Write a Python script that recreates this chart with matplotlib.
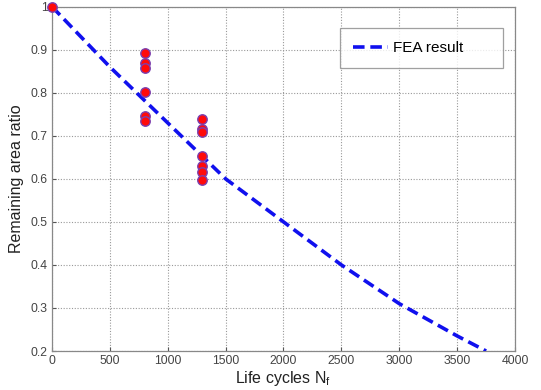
import matplotlib
matplotlib.use("Agg")
import matplotlib.pyplot as plt

plt.rcParams['font.family'] = ['Liberation Sans', 'DejaVu Sans']

# FEA result curve
fea_x = [0, 500, 1000, 1500, 2000, 2500, 3000, 3500, 3750]
fea_y = [1.0, 0.86, 0.73, 0.60, 0.50, 0.40, 0.31, 0.235, 0.20]

# Experimental points
exp_x = [0, 800, 800, 800, 800, 800, 800,
         1300, 1300, 1300, 1300, 1300, 1300, 1300]
exp_y = [1.0, 0.892, 0.868, 0.857, 0.801, 0.747, 0.734,
         0.739, 0.716, 0.708, 0.652, 0.630, 0.616, 0.598]

xticks = [0, 500, 1000, 1500, 2000, 2500, 3000, 3500, 4000]
yticks = [0.2, 0.3, 0.4, 0.5, 0.6, 0.7, 0.8, 0.9, 1.0]
ytick_labels = ['0.2', '0.3', '0.4', '0.5', '0.6', '0.7', '0.8', '0.9', '1']

fig = plt.figure(figsize=(5.41, 3.9), dpi=100)
ax = fig.add_axes([0.096, 0.10, 0.856, 0.883])

ax.plot(fea_x, fea_y, linestyle=(0, (3.2, 1.6)), color='#1010ee', linewidth=2.6,
        label='FEA result', zorder=3)
ax.plot(exp_x, exp_y, linestyle='none', marker='o', markersize=6.8,
        markerfacecolor='#ff0a0a', markeredgecolor='#7a3fb0', markeredgewidth=1.0,
        zorder=4, clip_on=False)

ax.set_xlim(0, 4000)
ax.set_ylim(0.2, 1.0)
ax.set_xticks(xticks)
ax.set_yticks(yticks)
ax.set_yticklabels(ytick_labels)
ax.tick_params(direction='in', length=3, labelsize=8.8, colors='#555555',
               labelcolor='#444444', pad=3)
ax.grid(True, linestyle=(0, (1, 1.5)), color='#999999', linewidth=0.8)
for s in ax.spines.values():
    s.set_color('#888888')
    s.set_linewidth(0.9)

ax.set_xlabel('Life cycles N$_\\mathregular{f}$', fontsize=11.5, color='#222222', labelpad=1)
ax.set_ylabel('Remaining area ratio', fontsize=11.5, color='#222222', labelpad=5)

leg = ax.legend(loc='upper left', bbox_to_anchor=(0.622, 0.816, 0.352, 0.122),
                mode='expand', fontsize=11, frameon=True, fancybox=False,
                handlelength=2.3, handletextpad=0.35, borderpad=0.85,
                borderaxespad=0.0)
leg.get_frame().set_edgecolor('#888888')
leg.get_frame().set_linewidth(0.9)

fig.savefig('out.png', dpi=100)
